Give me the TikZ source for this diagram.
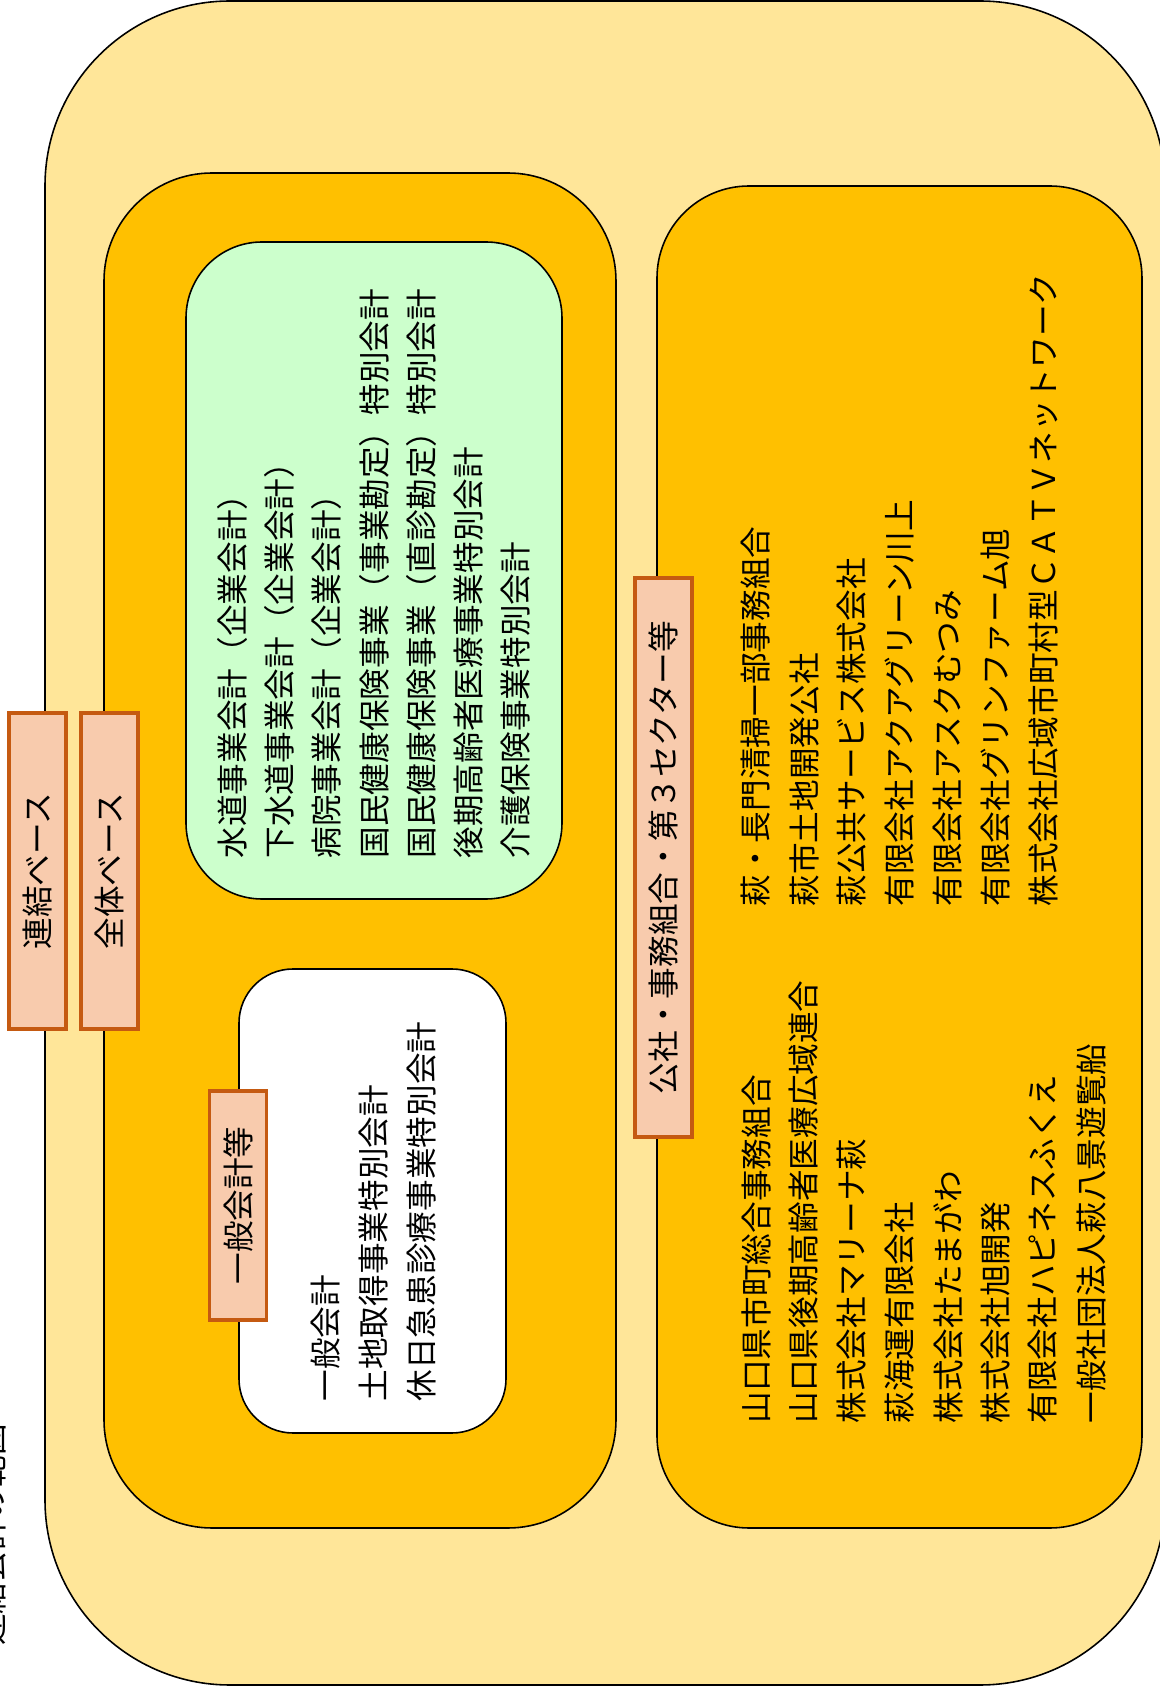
\documentclass[tikz,border=0pt]{standalone}
\usepackage{fontspec}
\setmainfont{Noto Sans CJK JP}
\usepackage{xcolor}
\usepackage{tikz}
\usetikzlibrary{positioning}
\definecolor{outerfill}{HTML}{FFE699}
\definecolor{boxfill}{HTML}{FFC000}
\definecolor{greenfill}{HTML}{CCFFCC}
\definecolor{tagfill}{HTML}{F8CBAD}
\definecolor{tagline}{HTML}{C55A11}

\begin{document}
\begin{tikzpicture}[
  frame/.style={draw=black, line width=0.45pt},
  tag/.style={draw=tagline, fill=tagfill, line width=0.95pt, rotate=90,
    inner sep=0pt, minimum height=0.57cm},
  row/.style={rotate=90, anchor=west, inner sep=0pt},
  font=\fontsize{9}{13.5}\selectfont
]
\useasboundingbox (0,0) rectangle (11.59,16.93);
\path (0.45,0.08) coordinate (O1);
\path (11.65,16.92) coordinate (O2);
\path (1.04,1.65) coordinate (L1);
\path (6.16,15.20) coordinate (L2);
\path (6.57,1.65) coordinate (R1);
\path (11.42,15.07) coordinate (R2);
\path (1.86,7.94) coordinate (G1);
\path (5.62,14.51) coordinate (G2);
\path (2.39,2.60) coordinate (W1);
\path (5.06,7.24) coordinate (W2);
%%Now for the boxes
\draw[frame, fill=outerfill, rounded corners=1.85cm] (O1) rectangle (O2);
\draw[frame, fill=boxfill, rounded corners=1.08cm] (L1) rectangle (L2);
\draw[frame, fill=boxfill, rounded corners=0.92cm] (R1) rectangle (R2);
\draw[frame, fill=greenfill, rounded corners=0.76cm] (G1) rectangle (G2);
\draw[frame, fill=white, rounded corners=0.54cm] (W1) rectangle (W2);
%%Now for the tags
\node[tag, minimum width=3.16cm] (renketsu) at (0.375,8.22) {連結ベース};
\node[tag, minimum width=3.16cm] (zentai) at (1.095,8.22) {全体ベース};
\node[tag, minimum width=2.29cm] (ippan) at (2.38,4.875) {一般会計等};
\node[tag, minimum width=5.59cm] (kosha) at (6.635,8.355) {公社・事務組合・第３セクター等};
%%the title, mostly off the page
\node[rotate=90, inner sep=0pt] (title) at (-0.09,1.58) {連結会計の範囲};
%%finally the text
\path (2.32,8.34) node[row] (g1) {水道事業会計（企業会計）}
(2.79,8.34) node[row] (g2) {下水道事業会計（企業会計）}
(3.26,8.34) node[row] (g3) {病院事業会計（企業会計）}
(3.74,8.34) node[row] (g4) {国民健康保険事業（事業勘定）特別会計}
(4.21,8.34) node[row] (g5) {国民健康保険事業（直診勘定）特別会計}
(4.69,8.34) node[row] (g6) {後期高齢者医療事業特別会計}
(5.16,8.34) node[row] (g7) {介護保険事業特別会計};
\path (3.26,2.91) node[row] (w1) {一般会計}
(3.74,2.91) node[row] (w2) {土地取得事業特別会計}
(4.21,2.91) node[row] (w3) {休日急患診療事業特別会計};
\path (7.56,2.69) node[row] (a1) {山口県市町総合事務組合}
(8.04,2.69) node[row] (a2) {山口県後期高齢者医療広域連合}
(8.52,2.69) node[row] (a3) {株式会社マリーナ萩}
(9.00,2.69) node[row] (a4) {萩海運有限会社}
(9.48,2.69) node[row] (a5) {株式会社たまがわ}
(9.96,2.69) node[row] (a6) {株式会社旭開発}
(10.43,2.69) node[row] (a7) {有限会社ハピネスふくえ}
(10.91,2.69) node[row] (a8) {一般社団法人萩八景遊覧船};
\path (7.56,7.86) node[row] (b1) {萩・長門清掃一部事務組合}
(8.04,7.86) node[row] (b2) {萩市土地開発公社}
(8.52,7.86) node[row] (b3) {萩公共サービス株式会社}
(9.00,7.86) node[row] (b4) {有限会社アクアグリーン川上}
(9.48,7.86) node[row] (b5) {有限会社アスクむつみ}
(9.96,7.86) node[row] (b6) {有限会社グリンファーム旭}
(10.43,7.86) node[row] (b7) {株式会社広域市町村型ＣＡＴＶネットワーク};
\end{tikzpicture}
\end{document}
